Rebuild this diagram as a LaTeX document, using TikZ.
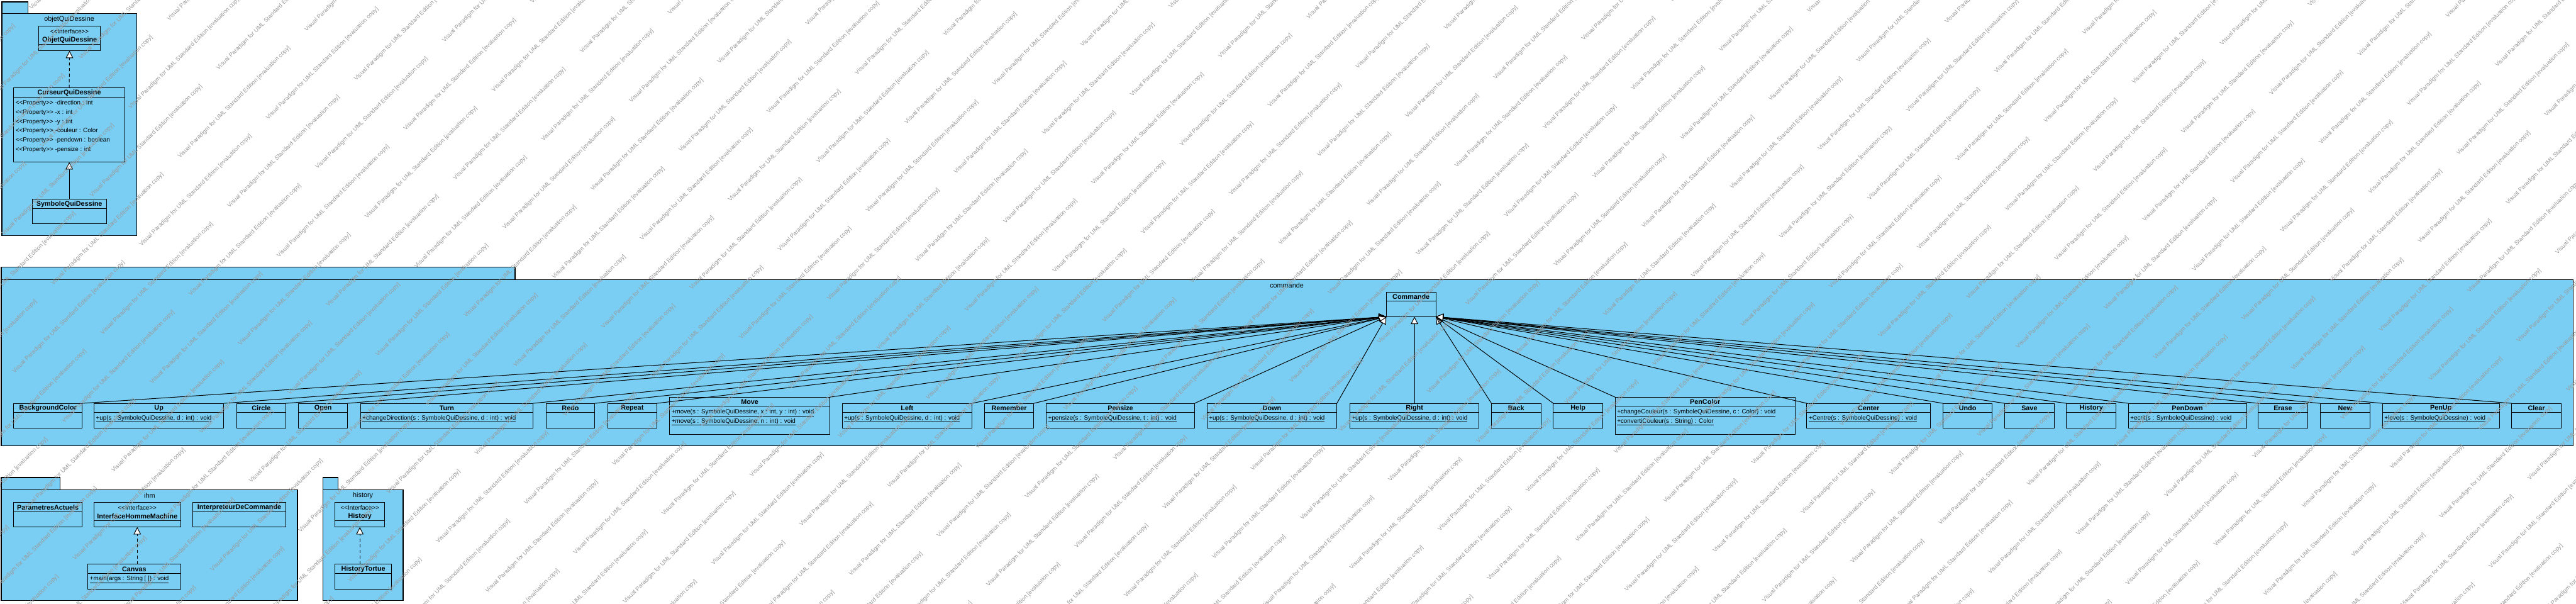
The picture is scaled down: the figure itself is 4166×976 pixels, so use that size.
\documentclass[tikz,border=0pt]{standalone}
\usepackage{fontspec}
\setmainfont{Liberation Sans}
\usetikzlibrary{arrows.meta, calc, positioning}
\definecolor{paket}{HTML}{7ACEF3}
\definecolor{wasser}{HTML}{9A9A9A}

\begin{document}
\begin{tikzpicture}[x=1pt, y=-1pt,
    pkg/.style={draw, fill=paket, line width=1.2pt},
    pkgname/.style={font=\fontsize{11}{13}\selectfont, inner sep=0pt},
    cls/.style={draw, fill=paket, line width=1pt, anchor=north west,
                inner sep=0pt, outer sep=0pt},
    clsname/.style={font=\fontsize{11}{13}\selectfont\bfseries, inner sep=0pt},
    stereo/.style={font=\fontsize{10}{12}\selectfont, inner sep=0pt},
    mth/.style={font=\fontsize{10}{12}\selectfont, inner sep=0pt, anchor=west},
    sep/.style={line width=1pt},
    gen/.style={line width=1pt, -{Triangle[length=12pt, width=12pt, fill=white]}},
    real/.style={gen, dash pattern=on 5pt off 4pt},
    wmark/.style={font=\fontsize{9.5}{11}\selectfont, text=wasser, rotate=45,
                  anchor=west, inner sep=0pt}]

  \fill[white] (0,0) rectangle (4166,976);
  \useasboundingbox (0,0) rectangle (4166,976);

  % Pakete
  \draw[pkg] (3,3) rectangle (45,22);
  \draw[pkg] (3,22) rectangle (221,381);
  \node[pkgname] (pobj) at (112,31) {objetQuiDessine};

  \draw[pkg] (2,432) rectangle (833,452);
  \draw[pkg] (2,452) rectangle (4161,721);
  \node[pkgname] (pcmd) at (2081,461) {commande};

  \draw[pkg] (2,772) rectangle (97,792);
  \draw[pkg] (2,792) rectangle (481,971);
  \node[pkgname] (pihm) at (242,801) {ihm};

  \draw[pkg] (522,772) rectangle (547,792);
  \draw[pkg] (522,792) rectangle (652,971);
  \node[pkgname] (phist) at (587,801) {history};

  % objetQuiDessine
  \node[cls, minimum width=99, minimum height=40] (obj) at (63,42) {};
  \node[stereo] at ([yshift=-9pt]obj.north) {<{}<Interface>{}>};
  \node[clsname] at ([yshift=-23pt]obj.north) {ObjetQuiDessine};
  \draw[sep] ([yshift=-30pt]obj.north west) -- ([yshift=-30pt]obj.north east);

  \node[cls, minimum width=180, minimum height=120] (cur) at (22,142) {};
  \node[clsname] at ([yshift=-8pt]cur.north) {CurseurQuiDessine};
  \draw[sep] ([yshift=-15pt]cur.north west) -- ([yshift=-15pt]cur.north east);
  \foreach \p [count=\n] in {direction : int, x : int, y : int, couleur : Color,
                             pendown : boolean, pensize : int}
    \node[mth] at ([xshift=3pt, yshift={-10pt-15pt*\n}]cur.north west)
      {<{}<Property>{}> -\p};

  \node[cls, minimum width=120, minimum height=40] (sym) at (52,322) {};
  \node[clsname] at ([yshift=-8pt]sym.north) {SymboleQuiDessine};
  \draw[sep] ([yshift=-15pt]sym.north west) -- ([yshift=-15pt]sym.north east);

  \draw[real] (cur.north) -- (obj.south);
  \draw[gen] (sym.north) -- (cur.south);

  % commande
  \node[cls, minimum width=80, minimum height=40] (cmd) at (2242,472) {};
  \node[clsname] at ([yshift=-8pt]cmd.north) {Commande};
  \draw[sep] ([yshift=-15pt]cmd.north west) -- ([yshift=-15pt]cmd.north east);

  \foreach \id/\xl/\w/\ttl in {bg/22/111/BackgroundColor, circ/383/79/Circle,
      open/483/79/Open, redo/883/79/Redo, rep/983/79/Repeat, rem/1592/80/Remember,
      back/2412/80/Back, help/2512/80/Help, undo/3142/80/Undo, save/3242/80/Save,
      hist/3342/80/History, erase/3652/80/Erase, new/3752/81/New, clear/4062/80/Clear}{
    \node[cls, minimum width=\w, minimum height=40] (\id) at (\xl,652) {};
    \node[clsname] at ([yshift=-8pt]\id.north) {\ttl};
    \draw[sep] ([yshift=-15pt]\id.north west) -- ([yshift=-15pt]\id.north east);
  }

  \foreach \id/\xl/\w/\ttl/\m in {
      up/152/210/Up/{+up(s : SymboleQuiDessine, d : int) : void},
      turn/583/279/Turn/{+changeDirection(s : SymboleQuiDessine, d : int) : void},
      left/1362/210/Left/{+up(s : SymboleQuiDessine, d : int) : void},
      pens/1692/240/Pensize/{+pensize(s : SymboleQuiDessine, t : int) : void},
      down/1952/210/Down/{+up(s : SymboleQuiDessine, d : int) : void},
      right/2183/209/Right/{+up(s : SymboleQuiDessine, d : int) : void},
      center/2922/200/Center/{+Centre(s : SymboleQuiDessine) : void},
      pdown/3442/191/PenDown/{+ecrit(s : SymboleQuiDessine) : void},
      pup/3853/189/PenUp/{+leve(s : SymboleQuiDessine) : void}}{
    \node[cls, minimum width=\w, minimum height=40] (\id) at (\xl,652) {};
    \node[clsname] at ([yshift=-8pt]\id.north) {\ttl};
    \draw[sep] ([yshift=-15pt]\id.north west) -- ([yshift=-15pt]\id.north east);
    \node[mth] at ([xshift=3pt, yshift=-25pt]\id.north west) {\underline{\m}};
  }

  \node[cls, minimum width=259, minimum height=60] (move) at (1083,642) {};
  \node[clsname] at ([yshift=-8pt]move.north) {Move};
  \draw[sep] ([yshift=-15pt]move.north west) -- ([yshift=-15pt]move.north east);
  \node[mth] at ([xshift=3pt, yshift=-25pt]move.north west)
    {\underline{+move(s : SymboleQuiDessine, x : int, y : int) : void}};
  \node[mth] at ([xshift=3pt, yshift=-40pt]move.north west)
    {\underline{+move(s : SymboleQuiDessine, n : int) : void}};

  \node[cls, minimum width=291, minimum height=60] (pcol) at (2612,642) {};
  \node[clsname] at ([yshift=-8pt]pcol.north) {PenColor};
  \draw[sep] ([yshift=-15pt]pcol.north west) -- ([yshift=-15pt]pcol.north east);
  \node[mth] at ([xshift=3pt, yshift=-25pt]pcol.north west)
    {\underline{+changeCouleur(s : SymboleQuiDessine, c : Color) : void}};
  \node[mth] at ([xshift=3pt, yshift=-40pt]pcol.north west)
    {\underline{+convertiCouleur(s : String) : Color}};

  % Vererbung
  \foreach \c in {bg, up, circ, open, turn, redo, rep, move, left, rem, pens, down}
    \draw[gen] (\c.north east) -- (cmd.south west);
  \foreach \c in {back, help, pcol, center, undo, save, hist, pdown, erase, new, pup, clear}
    \draw[gen] (\c.north west) -- (cmd.south east);
  \draw[gen] (right.north) -- (right.north |- cmd.south);

  % ihm
  \node[cls, minimum width=111, minimum height=40] (param) at (22,812) {};
  \node[clsname] at ([yshift=-8pt]param.north) {ParametresActuels};
  \draw[sep] ([yshift=-15pt]param.north west) -- ([yshift=-15pt]param.north east);

  \node[cls, minimum width=140, minimum height=40] (ihm) at (152,812) {};
  \node[stereo] at ([yshift=-9pt]ihm.north) {<{}<Interface>{}>};
  \node[clsname] at ([yshift=-23pt]ihm.north) {InterfaceHommeMachine};
  \draw[sep] ([yshift=-30pt]ihm.north west) -- ([yshift=-30pt]ihm.north east);

  \node[cls, minimum width=150, minimum height=40] (interp) at (312,812) {};
  \node[clsname] at ([yshift=-8pt]interp.north) {InterpreteurDeCommande};
  \draw[sep] ([yshift=-15pt]interp.north west) -- ([yshift=-15pt]interp.north east);

  \node[cls, minimum width=150, minimum height=40] (canvas) at (142,912) {};
  \node[clsname] at ([yshift=-8pt]canvas.north) {Canvas};
  \draw[sep] ([yshift=-15pt]canvas.north west) -- ([yshift=-15pt]canvas.north east);
  \node[mth] at ([xshift=3pt, yshift=-25pt]canvas.north west)
    {\underline{+main(args : String [ ]) : void}};

  \draw[real] (canvas.north -| ihm.south) -- (ihm.south);

  % history
  \node[cls, minimum width=80, minimum height=40] (hint) at (542,812) {};
  \node[stereo] at ([yshift=-9pt]hint.north) {<{}<Interface>{}>};
  \node[clsname] at ([yshift=-23pt]hint.north) {History};
  \draw[sep] ([yshift=-30pt]hint.north west) -- ([yshift=-30pt]hint.north east);

  \node[cls, minimum width=91, minimum height=40] (htort) at (542,912) {};
  \node[clsname] at ([yshift=-8pt]htort.north) {HistoryTortue};
  \draw[sep] ([yshift=-15pt]htort.north west) -- ([yshift=-15pt]htort.north east);

  \draw[real] (htort.north -| hint.south) -- (hint.south);

  % Wasserzeichen
  \begin{scope}
    \clip (0,0) rectangle (4166,976);
    \foreach \i in {-10,...,17}{
      \pgfmathtruncatemacro{\ka}{floor((62.5*\i-67)/80)}
      \pgfmathtruncatemacro{\kb}{\ka+15}
      \foreach \k in {\ka,...,\kb}
        \node[wmark] at ({717+142.5*\i+80*\k},{67-62.5*\i+80*\k})
          {Visual Paradigm for UML Standard Edition [evaluation copy]};
    }
  \end{scope}
\end{tikzpicture}
\end{document}
